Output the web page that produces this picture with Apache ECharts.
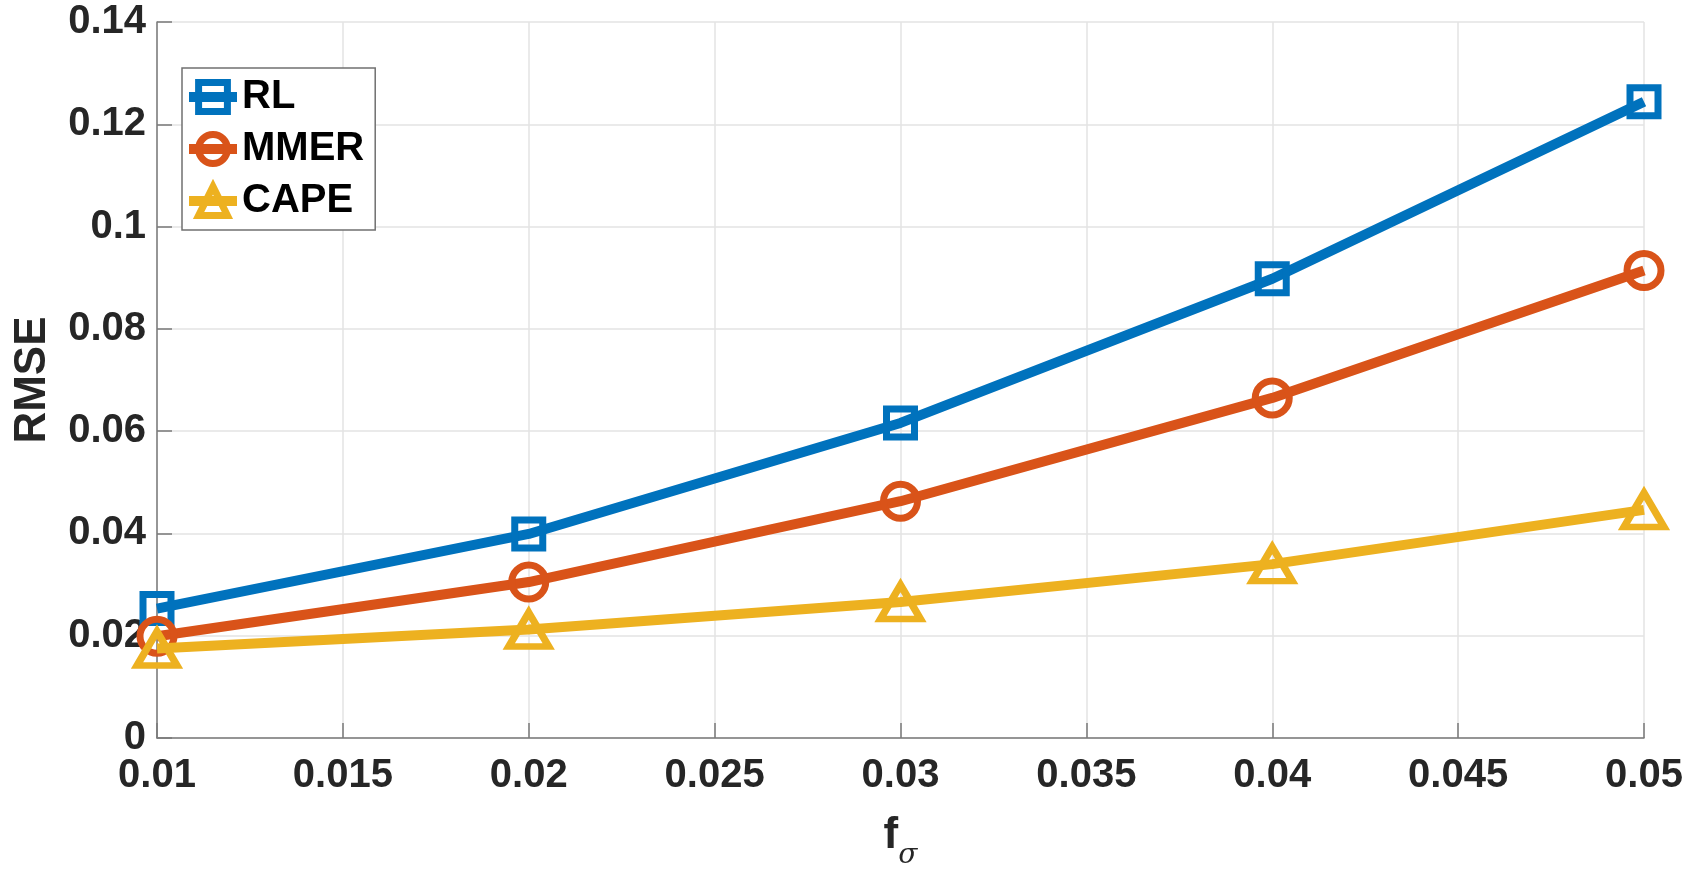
<!DOCTYPE html>
<html>
<head>
<meta charset="utf-8">
<script src="https://cdn.jsdelivr.net/npm/echarts@6/dist/echarts.min.js"></script>
<style>
html,body{margin:0;padding:0;background:#fff;}
#c{width:1695px;height:879px;}
</style>
</head>
<body>
<div id="c"></div>
<script>
const fSigma = [0.01, 0.02, 0.03, 0.04, 0.05];
const rl   = [0.0253, 0.0399, 0.0616, 0.0898, 0.1244];
const mmer = [0.0199, 0.0305, 0.0463, 0.0665, 0.0914];
const cape = [0.0175, 0.0212, 0.0266, 0.0340, 0.0446];
const seriesNames = ['RL', 'MMER', 'CAPE'];
const colors = ['#0072BD', '#D95319', '#EDB120'];

const FONT = '"Liberation Sans", Arial, sans-serif';
const chart = echarts.init(document.getElementById('c'), null, {renderer: 'canvas'});

function pairs(arr) { return fSigma.map((x, i) => [x, arr[i]]); }
function fmt(v) { return String(parseFloat(v.toFixed(4))); }

const symbols = ['rect', 'circle', 'triangle'];
const sizes = [[28, 28], [34, 34], [40, 34]];
const datas = [rl, mmer, cape];

const series = datas.map((d, i) => ({
  name: seriesNames[i],
  type: 'line',
  data: pairs(d),
  symbol: symbols[i],
  symbolSize: sizes[i],
  showAllSymbol: true,
  z: 3 + i,
  lineStyle: {color: colors[i], width: 10},
  itemStyle: {color: 'rgba(255,255,255,0)', borderColor: colors[i], borderWidth: 7},
  emphasis: {disabled: true},
  animation: false
}));

chart.setOption({
  backgroundColor: '#ffffff',
  animation: false,
  grid: {left: 157, right: 51, top: 22, bottom: 141, containLabel: false, outerBoundsMode: 'none'},
  legend: {
    left: 182, top: 68,
    orient: 'vertical',
    data: seriesNames,
    itemWidth: 48, itemHeight: 36, itemGap: 12, itemTextGap: 3,
    padding: [9, 11, 9, 2],
    borderColor: '#707070', borderWidth: 1.5,
    backgroundColor: '#ffffff',
    lineStyle: {width: 10},
    itemStyle: {borderWidth: 7},
    textStyle: {fontFamily: FONT, fontWeight: 'bold', fontSize: 40, color: '#000'}
  },
  xAxis: {
    type: 'value', min: 0.01, max: 0.05, interval: 0.005,
    name: '{f|f}{s|σ}',
    nameLocation: 'middle', nameGap: 64,
    nameTextStyle: {
      rich: {
        f: {fontFamily: FONT, fontWeight: 'bold', fontSize: 44, color: '#262626'},
        s: {fontFamily: '"DejaVu Serif", serif', fontStyle: 'italic', fontSize: 28, color: '#262626', padding: [40, 0, 0, 0]}
      }
    },
    axisLine: {show: true, lineStyle: {color: '#7a7a7a', width: 1.5}},
    axisTick: {show: true, inside: true, length: 15, lineStyle: {color: '#7a7a7a', width: 1.5}},
    splitLine: {show: true, lineStyle: {color: '#e3e3e3', width: 1.5}},
    axisLabel: {formatter: fmt, margin: 18, fontFamily: FONT, fontWeight: 'bold', fontSize: 40, color: '#262626'}
  },
  yAxis: {
    type: 'value', min: 0, max: 0.14, interval: 0.02,
    name: 'RMSE',
    nameLocation: 'middle', nameGap: 102, nameRotate: 90,
    nameTextStyle: {fontFamily: FONT, fontWeight: 'bold', fontSize: 44, color: '#262626'},
    axisLine: {show: true, lineStyle: {color: '#7a7a7a', width: 1.5}},
    axisTick: {show: true, inside: true, length: 15, lineStyle: {color: '#7a7a7a', width: 1.5}},
    splitLine: {show: true, lineStyle: {color: '#e3e3e3', width: 1.5}},
    axisLabel: {formatter: fmt, margin: 11, fontFamily: FONT, fontWeight: 'bold', fontSize: 40, color: '#262626'}
  },
  series: series
});
</script>
</body>
</html>
